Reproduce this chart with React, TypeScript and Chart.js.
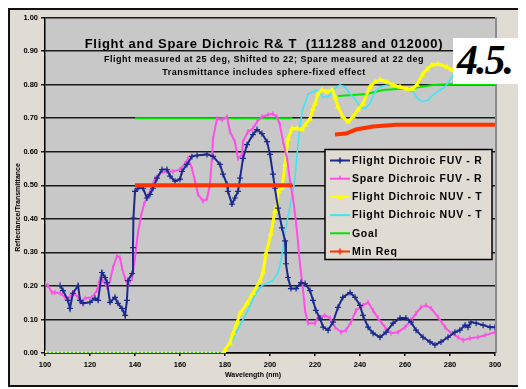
import React, { useEffect, useRef } from "react";
import { Chart, registerables } from "chart.js";

Chart.register(...registerables);

// ---- Data (wavelength, value) ----
const xTicks = [100, 120, 140, 160, 180, 200, 220, 240, 260, 280, 300];
const yTicks = [0, 0.1, 0.2, 0.3, 0.4, 0.5, 0.6, 0.7, 0.8, 0.9, 1.0];

const seriesNames = [
  "Flight Dichroic FUV - R",
  "Spare Dichroic FUV - R",
  "Flight Dichroic NUV - T",
  "Flight Dichroic NUV - T",
  "Goal",
  "Min Req",
];

const titleText = "Flight and Spare Dichroic R& T  (111288 and 012000)";
const subtitle1 = "Flight measured at 25 deg, Shifted to 22; Spare measured at 22 deg";
const subtitle2 = "Transmittance includes sphere-fixed effect";
const xTitle = "Wavelength (nm)";
const yTitle = "Reflectance/Transmittance";
const pageLabel = "4.5.";

const flightFuvR: [number, number][] = [
  [106.7, 0.201], [108.0, 0.186], [110.2, 0.157], [111.1, 0.133], [112.4, 0.178], [114.7, 0.201],
  [115.6, 0.157], [116.9, 0.148], [120.0, 0.151], [122.2, 0.163], [123.6, 0.157], [125.3, 0.240],
  [126.7, 0.225], [127.6, 0.210], [128.9, 0.151], [131.1, 0.166], [132.4, 0.148], [134.2, 0.133],
  [135.6, 0.112], [136.4, 0.157], [136.9, 0.216], [138.7, 0.237], [139.1, 0.314], [139.3, 0.402],
  [140.0, 0.482], [141.3, 0.491], [143.6, 0.491], [145.3, 0.462], [146.7, 0.473], [148.0, 0.491],
  [149.8, 0.521], [152.0, 0.547], [154.2, 0.547], [155.6, 0.527], [157.8, 0.512], [160.0, 0.518],
  [160.9, 0.541], [163.1, 0.562], [165.3, 0.586], [167.6, 0.589], [172.0, 0.592], [174.7, 0.586],
  [177.8, 0.562], [179.1, 0.533], [180.9, 0.503], [181.3, 0.482], [183.1, 0.444], [184.4, 0.462],
  [185.8, 0.482], [186.7, 0.521], [188.0, 0.580], [189.8, 0.621], [192.4, 0.651], [194.2, 0.666],
  [196.4, 0.654], [198.7, 0.630], [200.0, 0.592], [201.3, 0.533], [202.2, 0.491], [203.6, 0.432],
  [205.3, 0.373], [206.7, 0.334], [207.1, 0.266], [208.0, 0.225], [209.3, 0.192], [211.6, 0.192],
  [213.8, 0.210], [215.6, 0.207], [217.8, 0.186], [219.1, 0.157], [220.4, 0.127], [222.2, 0.104],
  [223.6, 0.077], [225.8, 0.068], [228.0, 0.092], [230.2, 0.136], [232.4, 0.166], [235.6, 0.180],
  [237.8, 0.166], [240.0, 0.142], [241.3, 0.112], [243.6, 0.077], [245.8, 0.059], [248.9, 0.047],
  [251.6, 0.062], [254.7, 0.089], [257.8, 0.104], [260.4, 0.104], [262.7, 0.092], [264.9, 0.068],
  [268.0, 0.047], [271.1, 0.033], [273.3, 0.024], [276.0, 0.033], [279.1, 0.047], [282.2, 0.062],
  [284.4, 0.068], [286.7, 0.083], [288.0, 0.077], [289.3, 0.092], [291.6, 0.089], [294.7, 0.083],
  [297.8, 0.077], [300.0, 0.077],
];

const spareFuvR: [number, number][] = [
  [100.0, 0.207], [101.3, 0.201], [103.1, 0.180], [104.4, 0.180], [106.7, 0.178], [108.9, 0.166],
  [111.1, 0.166], [112.4, 0.180], [114.7, 0.166], [115.6, 0.151], [117.8, 0.163], [120.9, 0.166],
  [123.1, 0.186], [124.4, 0.222], [125.8, 0.216], [127.6, 0.195], [128.9, 0.216], [130.2, 0.254],
  [132.0, 0.290], [133.3, 0.284], [134.2, 0.254], [135.6, 0.222], [136.9, 0.201], [138.7, 0.222],
  [140.0, 0.284], [141.3, 0.358], [142.7, 0.408], [144.0, 0.444], [145.3, 0.462], [146.7, 0.482],
  [148.9, 0.521], [151.1, 0.536], [154.2, 0.541], [156.9, 0.541], [160.0, 0.547], [162.2, 0.565],
  [163.6, 0.580], [165.3, 0.550], [166.7, 0.512], [168.0, 0.473], [170.2, 0.453], [172.0, 0.459],
  [173.3, 0.503], [174.2, 0.580], [174.7, 0.639], [176.4, 0.698], [178.7, 0.695], [180.9, 0.704],
  [182.2, 0.660], [184.4, 0.630], [185.8, 0.580], [187.6, 0.592], [188.0, 0.630], [190.2, 0.660],
  [192.4, 0.669], [194.2, 0.689], [196.4, 0.704], [199.1, 0.710], [201.3, 0.713], [203.1, 0.704],
  [204.4, 0.680], [205.8, 0.630], [207.6, 0.580], [208.9, 0.512], [210.2, 0.462], [211.6, 0.388],
  [212.4, 0.334], [213.3, 0.266], [214.7, 0.186], [215.6, 0.127], [216.9, 0.089], [220.0, 0.089],
  [221.3, 0.107], [224.4, 0.112], [226.7, 0.104], [228.9, 0.077], [231.6, 0.062], [233.8, 0.068],
  [236.0, 0.092], [238.2, 0.127], [241.3, 0.142], [243.6, 0.151], [245.8, 0.127], [248.0, 0.104],
  [251.1, 0.077], [253.8, 0.059], [256.9, 0.062], [260.0, 0.077], [262.7, 0.098], [264.9, 0.118],
  [267.1, 0.136], [269.3, 0.142], [271.6, 0.133], [274.7, 0.107], [277.8, 0.077], [280.4, 0.059],
  [283.6, 0.047], [285.8, 0.038], [288.9, 0.044], [292.4, 0.047], [295.6, 0.053], [300.0, 0.062],
];

const flightNuvT: [number, number][] = [
  [100.0, 0], [179.6, 0], [180.0, 0.009], [182.2, 0.030], [183.6, 0.059], [185.3, 0.089],
  [186.7, 0.118], [189.8, 0.148], [192.4, 0.178], [195.6, 0.216], [196.9, 0.240], [198.2, 0.296],
  [200.4, 0.355], [202.2, 0.423], [203.1, 0.438], [203.6, 0.482], [205.3, 0.491], [206.7, 0.562],
  [208.0, 0.639], [209.8, 0.669], [212.0, 0.669], [214.2, 0.666], [215.6, 0.680], [217.8, 0.698],
  [219.1, 0.728], [220.0, 0.743], [221.3, 0.772], [223.1, 0.784], [225.3, 0.778], [227.6, 0.784],
  [228.9, 0.763], [230.2, 0.734], [232.4, 0.704], [234.7, 0.689], [236.9, 0.704], [239.1, 0.725],
  [241.3, 0.743], [244.4, 0.793], [246.7, 0.808], [248.9, 0.814], [252.0, 0.808], [254.7, 0.799],
  [257.8, 0.793], [260.9, 0.787], [263.1, 0.787], [265.3, 0.799], [267.6, 0.828], [269.8, 0.846],
  [272.0, 0.858], [274.7, 0.861], [278.7, 0.852], [280.9, 0.843], [284.4, 0.831], [288.9, 0.814],
  [293.3, 0.808], [300.0, 0.814],
];

const flightNuvT2: [number, number][] = [
  [100.0, 0], [179.6, 0], [182.2, 0.024], [184.4, 0.053], [186.7, 0.083], [190.2, 0.127],
  [193.3, 0.172], [196.4, 0.201], [201.3, 0.216], [203.6, 0.240], [204.9, 0.275], [206.2, 0.334],
  [207.6, 0.393], [208.9, 0.438], [210.2, 0.482], [211.1, 0.521], [212.4, 0.621], [213.3, 0.680],
  [214.7, 0.728], [216.9, 0.772], [219.1, 0.778], [220.9, 0.784], [222.2, 0.772], [223.6, 0.763],
  [225.8, 0.763], [228.0, 0.784], [231.1, 0.799], [233.3, 0.793], [235.6, 0.772], [237.8, 0.757],
  [240.0, 0.734], [242.2, 0.728], [244.4, 0.743], [246.7, 0.778], [248.9, 0.793], [252.0, 0.799],
  [254.7, 0.799], [257.8, 0.793], [260.9, 0.787], [263.6, 0.778], [265.8, 0.757], [268.0, 0.749],
  [270.2, 0.754], [272.4, 0.769], [275.6, 0.784], [277.8, 0.793], [280.0, 0.814], [282.2, 0.837],
  [285.3, 0.861], [288.9, 0.876], [293.3, 0.885], [300.0, 0.891],
];

const goal: [number, number | null][] = [
  [140, 0.70], [210, 0.70], [220, null],
  [230.2, 0.766], [243.1, 0.772], [250.2, 0.784], [263.6, 0.790], [272.4, 0.799], [281.3, 0.802], [300, 0.802],
];

const minReq: [number, number | null][] = [
  [140, 0.50], [210, 0.50], [220, null],
  [228.9, 0.651], [233.8, 0.654], [238.2, 0.666], [245.8, 0.675], [256.0, 0.680], [300, 0.680],
];

// ---- Styles ----
const colors = ["#1b2a8e", "#ff4fe6", "#ffff00", "#3fe6ef", "#00e600", "#ff3300"];
const widths = [2, 2, 3, 1.6, 2, 4];
const FONT = "'Liberation Sans', Arial, sans-serif";

const toXY = (arr: [number, number | null][]) => arr.map(([x, y]) => ({ x, y }));

function drawMarker(ctx: CanvasRenderingContext2D, i: number, x: number, y: number) {
  ctx.save();
  ctx.strokeStyle = colors[i];
  ctx.fillStyle = colors[i];
  ctx.lineWidth = 1.5;
  if (i === 0 || i === 5) {
    ctx.beginPath();
    ctx.moveTo(x - 3, y); ctx.lineTo(x + 3, y);
    ctx.moveTo(x, y - 3); ctx.lineTo(x, y + 3);
    ctx.stroke();
  } else if (i === 1) {
    ctx.beginPath();
    ctx.moveTo(x, y - 3); ctx.lineTo(x, y);
    ctx.stroke();
  } else if (i === 2) {
    ctx.beginPath();
    ctx.moveTo(x, y - 3); ctx.lineTo(x + 3, y + 2); ctx.lineTo(x - 3, y + 2); ctx.closePath();
    ctx.fill();
  }
  ctx.restore();
}

const decorPlugin = {
  id: "decor",
  beforeDraw(chart: any) {
    const { ctx, chartArea: ca } = chart;
    ctx.save();
    ctx.fillStyle = "#c8c8c8";
    ctx.fillRect(ca.left, ca.top, ca.right - ca.left, ca.bottom - ca.top);
    ctx.strokeStyle = "#8c8c8c";
    ctx.lineWidth = 2;
    ctx.beginPath();
    ctx.moveTo(ca.right + 1, ca.top);
    ctx.lineTo(ca.right + 1, ca.bottom);
    ctx.stroke();
    ctx.restore();
  },
  afterDatasetsDraw(chart: any) {
    const { ctx, chartArea: ca } = chart;
    ctx.save();
    ctx.fillStyle = "#000";
    ctx.textAlign = "center";
    ctx.textBaseline = "middle";
    const cx = ca.left + 219;
    ctx.font = `bold 13px ${FONT}`;
    (ctx as any).letterSpacing = "0.7px";
    ctx.fillText(titleText, cx, ca.top + 27);
    ctx.font = `bold 9px ${FONT}`;
    (ctx as any).letterSpacing = "0.5px";
    ctx.fillText(subtitle1, cx, ca.top + 42);
    ctx.fillText(subtitle2, cx, ca.top + 55);
    (ctx as any).letterSpacing = "0px";

    // axis titles
    ctx.font = `bold 7px ${FONT}`;
    ctx.fillText(xTitle, ca.left + 208, ca.bottom + 22);
    ctx.save();
    ctx.translate(8, ca.top + 190);
    ctx.rotate(-Math.PI / 2);
    ctx.fillText(yTitle, 0, 0);
    ctx.restore();

    // legend
    const bx = ca.left + 280, by = ca.top + 132, bw = 167, bh = 110;
    ctx.fillStyle = "#e0dbd3";
    ctx.fillRect(bx, by, bw, bh);
    ctx.strokeStyle = "#000";
    ctx.lineWidth = 1.5;
    ctx.strokeRect(bx, by, bw, bh);
    ctx.textAlign = "left";
    ctx.font = `bold 10.5px ${FONT}`;
    chart.data.datasets.forEach((ds: any, i: number) => {
      const y = by + 11 + i * 18.2;
      ctx.strokeStyle = colors[i];
      ctx.lineWidth = 2;
      ctx.beginPath();
      ctx.moveTo(bx + 5, y);
      ctx.lineTo(bx + 25, y);
      ctx.stroke();
      drawMarker(ctx, i, bx + 15, y);
      ctx.fillStyle = "#000";
      (ctx as any).letterSpacing = "0.7px";
      ctx.fillText(ds.label, bx + 27, y + 0.5);
      (ctx as any).letterSpacing = "0px";
    });
    ctx.restore();
  },
};

export default function App() {
  const ref = useRef<HTMLCanvasElement>(null);
  useEffect(() => {
    document.body.style.overflow = "hidden";
    const seriesData = [flightFuvR, spareFuvR, flightNuvT, flightNuvT2, goal, minReq];
    const pointStyles: any[] = ["cross", "line", "triangle", false, false, false];
    const pointRadius = [3, 2.5, 2.2, 0, 0, 0];
    const datasets = seriesData.map((d, i) => ({
      label: seriesNames[i],
      data: toXY(d as any),
      borderColor: colors[i],
      backgroundColor: colors[i],
      borderWidth: widths[i],
      pointStyle: pointStyles[i],
      pointRadius: pointRadius[i],
      pointBorderWidth: 1.2,
      pointRotation: i === 1 ? 90 : 0,
      tension: 0,
      spanGaps: false,
      order: i === 5 ? -1 : 0,
      segment:
        i === 2
          ? { borderDash: (c: any) => (c.p0.parsed.y === 0 && c.p1.parsed.y === 0 ? [2, 2] : undefined) }
          : undefined,
    }));
    const chart = new Chart(ref.current as HTMLCanvasElement, {
      type: "line",
      data: { datasets } as any,
      options: {
        responsive: false,
        animation: false,
        devicePixelRatio: 1,
        layout: { padding: { left: 0, right: 27, top: 5, bottom: 0 } },
        plugins: { legend: { display: false }, title: { display: false }, tooltip: { enabled: false } },
        scales: {
          x: {
            type: "linear",
            min: 100,
            max: 300,
            afterBuildTicks: (s: any) => { s.ticks = xTicks.map((v) => ({ value: v })); },
            afterFit: (s: any) => { s.height = 32; },
            ticks: {
              color: "#000",
              font: { family: FONT, size: 7.5, weight: "bold" },
              padding: 4,
              maxRotation: 0,
              autoSkip: false,
            },
            grid: { drawOnChartArea: false, drawTicks: true, tickLength: 3, color: "#000", lineWidth: 1.5 },
            border: { color: "#000", width: 1.5 },
          },
          y: {
            min: 0,
            max: 1,
            afterBuildTicks: (s: any) => { s.ticks = yTicks.map((v) => ({ value: v })); },
            afterFit: (s: any) => { s.width = 35; },
            ticks: {
              color: "#000",
              font: { family: FONT, size: 7.5, weight: "bold" },
              padding: 3,
              callback: (v: any) => Number(v).toFixed(2),
            },
            grid: { color: "#1a1a1a", lineWidth: 1.5, tickLength: 4 },
            border: { color: "#000", width: 1.5 },
          },
        },
      } as any,
      plugins: [decorPlugin],
    });
    return () => chart.destroy();
  }, []);

  return (
    <div
      style={{
        position: "relative",
        width: 516,
        height: 379,
        boxSizing: "border-box",
        border: "2px solid #111",
        background: "#e0dbd3",
      }}
    >
      <canvas ref={ref} width={512} height={375} style={{ position: "absolute", left: 0, top: 0, width: 512, height: 375 }} />
      <div
        style={{
          position: "absolute",
          left: 443,
          top: 28,
          width: 73,
          height: 46,
          background: "#fff",
          fontFamily: "'Liberation Serif', 'Times New Roman', serif",
          fontStyle: "italic",
          fontWeight: "bold",
          fontSize: 42,
          letterSpacing: -2,
          lineHeight: "44px",
          paddingLeft: 4,
          boxSizing: "border-box",
          color: "#000",
          whiteSpace: "nowrap",
          overflow: "hidden",
        }}
      >
        {pageLabel}
      </div>
    </div>
  );
}
